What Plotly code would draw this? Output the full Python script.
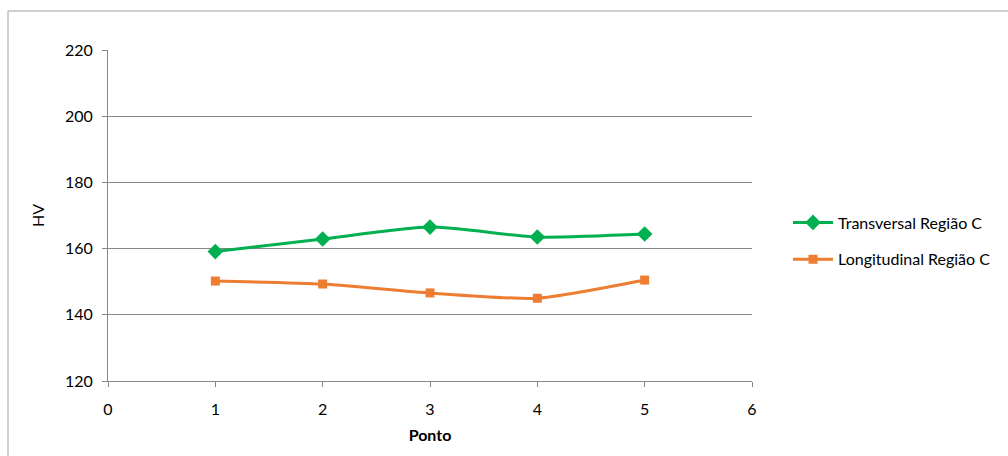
import plotly.graph_objects as go

# Hardness measurements (HV) per measuring point
pontos = [1, 2, 3, 4, 5]
transversal = [159.1, 162.9, 166.5, 163.5, 164.4]
longitudinal = [150.2, 149.3, 146.6, 145.0, 150.5]

GRID = "#878787"
FONT = "Lato"

fig = go.Figure()
fig.add_trace(go.Scatter(
    x=pontos, y=transversal, mode="lines+markers", name="Transversal Região C",
    legendgroup="t",
    line=dict(color="#00B050", width=3, shape="spline", smoothing=0.6),
    marker=dict(symbol="diamond", size=12, color="#00B050"),
))
fig.add_trace(go.Scatter(
    x=pontos, y=longitudinal, mode="lines+markers", name="Longitudinal Região C",
    legendgroup="l",
    line=dict(color="#ED7D31", width=3, shape="spline", smoothing=0.6),
    marker=dict(symbol="square", size=9, color="#ED7D31"),
))

# Plot-area geometry in pixels, used to place the outer frame
L, R, T, B = 108, 752, 50, 381
W, H = R - L, B - T

def px_x(p):
    return (p - L) / W

def px_y(p):
    return (B - p) / H

fig.update_layout(
    width=1008, height=456,
    margin=dict(l=L, r=1008 - R, t=T, b=456 - B),
    paper_bgcolor="white", plot_bgcolor="white",
    font=dict(family=FONT, size=16, color="black"),
    showlegend=True,
    legend=dict(x=px_x(788), y=px_y(241), xanchor="left", yanchor="middle",
                font=dict(size=16), bgcolor="rgba(0,0,0,0)",
                traceorder="grouped", tracegroupgap=13, itemwidth=40),
    xaxis=dict(range=[0, 6], dtick=1, tick0=0, showgrid=False, zeroline=False,
               showline=True, linecolor=GRID, linewidth=1,
               ticks="outside", ticklen=5, tickcolor=GRID, ticklabelstandoff=9,
               title=dict(text="<b>Ponto</b>", font=dict(size=16), standoff=12)),
    yaxis=dict(range=[120, 220], dtick=20, showgrid=True, gridcolor=GRID, gridwidth=1,
               zeroline=False, showline=True, linecolor=GRID, linewidth=1,
               ticks="outside", ticklen=5, tickcolor=GRID, ticklabelstandoff=6,
               title=dict(text="HV", font=dict(size=16), standoff=16)),
    shapes=[
        dict(type="line", xref="paper", yref="paper",
             x0=px_x(8), x1=px_x(8), y0=px_y(470), y1=px_y(11),
             line=dict(color="#BFBFBF", width=1.5)),
        dict(type="line", xref="paper", yref="paper",
             x0=px_x(8), x1=px_x(1020), y0=px_y(11), y1=px_y(11),
             line=dict(color="#BFBFBF", width=1.5)),
    ],
)

fig.write_html("out.html")
